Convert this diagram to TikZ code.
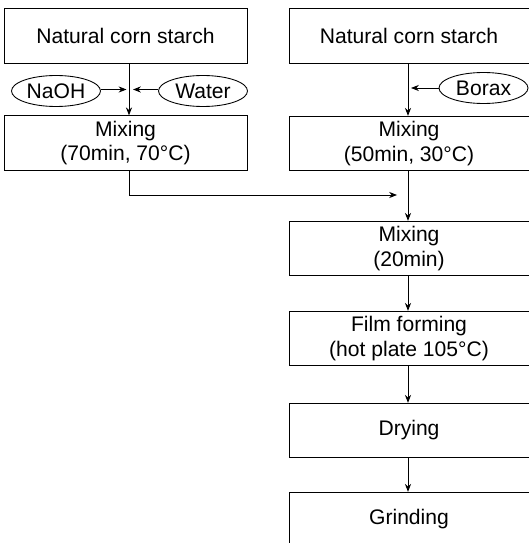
\documentclass[tikz,border=0pt]{standalone}
\usepackage{fontspec}
\setmainfont{Liberation Sans}
\usetikzlibrary{positioning, shapes.geometric, arrows.meta}

\begin{document}
\begin{tikzpicture}[
    font=\fontsize{12}{14}\selectfont,
    every path/.style={line width=0.5pt},
    >={Stealth[length=4.5pt, width=3.5pt]},
    procbox/.style={draw, rectangle, align=center, minimum height=1.09cm, inner sep=0pt},
    addbox/.style={draw, ellipse, minimum width=1.78cm, minimum height=0.62cm, inner sep=0pt}
  ]
  \useasboundingbox (0, 0) rectangle (10.56, -10.86);
  % left branch
  \node[procbox, minimum width=4.86cm] (s1) at (2.51, -0.72) {Natural corn starch};
  \node[addbox] (naoh) at (1.12, -1.82) {NaOH};
  \node[addbox] (water) at (4.06, -1.82) {Water};
  \node[procbox, minimum width=4.86cm] (m1) at (2.51, -2.86) {Mixing\\(70min, 70°C)};
  \coordinate (j1) at (2.53, -1.79);
  \coordinate (j2) at (2.66, -1.79);
  \draw[->] (s1.south -| 2.58, 0) -- (m1.north -| 2.58, 0);
  \draw[->] (naoh.east |- j1) -- (j1);
  \draw[->] (water.west |- j2) -- (j2);
  % right branch
  \node[procbox, minimum width=4.8cm] (s2) at (8.18, -0.72) {Natural corn starch};
  \node[addbox] (borax) at (9.67, -1.76) {Borax};
  \node[procbox, minimum width=4.8cm] (m2) at (8.18, -2.87) {Mixing\\(50min, 30°C)};
  \node[procbox, minimum width=4.8cm] (m3) at (8.18, -4.97) {Mixing\\(20min)};
  \node[procbox, minimum width=4.8cm] (film) at (8.18, -6.77) {Film forming\\(hot plate 105°C)};
  \node[procbox, minimum width=4.8cm] (dry) at (8.18, -8.61) {Drying};
  \node[procbox, minimum width=4.8cm] (grind) at (8.18, -10.39) {Grinding};
  \coordinate (j3) at (8.22, -1.76);
  \coordinate (j4) at (7.94, -3.9);
  \draw[->] (s2.south -| 8.16, 0) -- (m2.north -| 8.16, 0);
  \draw[->] (borax) -- (j3);
  \draw[->] (m2.south -| 8.16, 0) -- (m3.north -| 8.16, 0);
  \draw[->] (m1.south -| 2.58, 0) |- (j4);
  \draw[->] (m3.south -| 8.16, 0) -- (film.north -| 8.16, 0);
  \draw[->] (film.south -| 8.16, 0) -- (dry.north -| 8.16, 0);
  \draw[->] (dry.south -| 8.16, 0) -- (grind.north -| 8.16, 0);
\end{tikzpicture}
\end{document}
